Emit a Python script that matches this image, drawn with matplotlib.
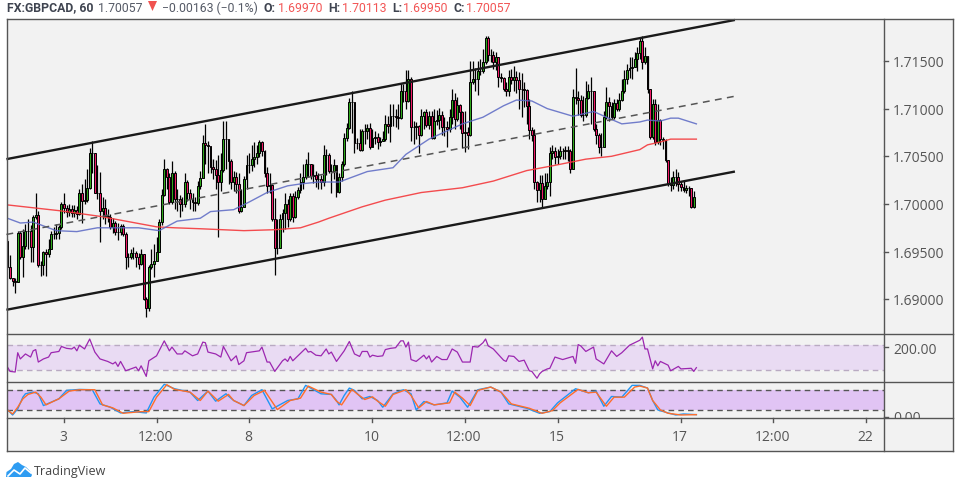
import matplotlib
matplotlib.use('Agg')
import matplotlib.pyplot as plt
import numpy as np
from matplotlib.lines import Line2D
from matplotlib.patches import Polygon, Rectangle
from matplotlib.ticker import FixedLocator

# All prices are in pips above 1.7000.
first_open = -39
close_pips = [-66,-78,-81,-82,-30,-56,-44,-28,-28,-45,-14,-12,-64,-64,-50,-53,-47,-32,-32,-30,
    -24,0,-4,-8,-5,-9,-6,-11,11,3,4,17,53,53,12,11,-7,-4,-13,-14,
    -24,-20,-29,-29,-23,-32,-56,-56,-51,-51,-56,-63,-53,-100,-109,-66,-63,-60,-50,-19,
    9,37,28,2,32,5,5,0,0,23,11,5,2,1,19,27,64,62,61,39,
    37,30,23,36,68,68,45,23,28,21,-7,-3,26,41,41,47,49,53,65,56,
    32,19,20,-16,-46,-46,-16,-9,0,-16,8,-14,7,15,23,28,42,42,29,30,
    26,26,23,51,51,35,35,41,13,28,42,69,80,107,107,64,64,57,77,77,
    80,60,69,70,65,66,68,84,82,92,92,91,90,118,118,108,131,81,81,82,
    72,92,96,83,92,69,87,88,93,81,81,79,91,109,89,104,96,74,75,72,
    128,131,131,139,139,149,174,156,156,149,154,133,132,121,118,133,130,133,130,121,
    121,120,103,78,72,23,15,22,5,19,23,53,56,49,50,56,56,57,56,37,
    112,111,109,93,93,111,118,118,79,72,60,60,91,107,103,91,106,100,109,119,
    131,140,143,144,152,158,171,149,155,121,70,105,65,88,68,67,46,21,20,28,
    28,21,18,15,17,17,-3,7]
high_pips = [-37,-54,-78,-78,-28,-28,-26,-21,-16,-22,-12,12,-7,-60,-49,-47,-37,-28,-24,-21,
    -22,2,12,-1,0,-1,-1,-2,16,21,26,37,59,66,50,41,33,7,5,-5,
    -11,-15,-18,-20,-21,-21,-29,-51,-47,-45,-49,-51,-47,-53,-98,-64,-47,-42,-35,-16,
    16,47,38,32,45,35,16,9,7,32,25,16,11,7,24,35,72,84,66,47,
    47,46,51,53,87,87,68,47,35,34,32,16,29,51,53,62,65,62,67,66,
    57,39,32,21,6,-16,-11,-5,11,5,11,11,14,18,32,42,47,54,42,42,
    35,32,30,62,58,53,42,47,40,32,45,74,85,111,119,100,69,79,79,84,
    84,85,79,77,74,70,77,93,92,105,105,100,105,127,126,141,141,133,87,86,
    83,100,98,100,98,97,100,99,101,97,91,87,100,121,116,112,105,97,97,81,
    150,150,143,150,152,163,176,176,163,160,159,154,137,133,128,140,142,145,139,138,
    137,128,121,110,81,79,24,30,30,32,32,60,62,60,58,61,59,61,61,58,
    121,143,119,114,113,129,126,133,119,84,74,74,97,123,112,107,110,110,116,131,
    140,147,154,154,159,165,175,176,165,155,121,110,110,105,89,70,68,46,28,35,
    37,33,24,24,20,19,17,14]
low_pips = [-68,-79,-86,-93,-82,-58,-77,-47,-47,-61,-61,-16,-66,-76,-74,-76,-56,-47,-37,-37,
    -37,-26,-9,-14,-13,-14,-14,-16,-12,-20,0,2,16,32,11,5,-40,-16,-21,-19,
    -26,-30,-33,-38,-33,-34,-68,-66,-58,-58,-66,-68,-64,-101,-119,-112,-68,-77,-60,-50,
    -22,8,16,0,0,-5,-7,-14,-7,-3,3,-5,-7,-7,-1,16,27,42,32,32,
    26,16,-35,14,33,37,21,16,14,11,-9,-8,-2,16,32,35,39,42,49,50,
    28,11,11,-18,-75,-53,-42,-29,-26,-24,-18,-19,-15,5,11,16,26,28,26,22,
    18,16,16,19,30,32,11,26,7,11,24,40,66,79,74,53,58,56,56,63,
    68,58,60,63,58,61,66,66,74,65,82,81,79,89,107,100,107,66,63,68,
    53,71,79,81,79,68,68,83,79,72,71,60,75,84,79,87,79,59,54,58,
    71,126,119,114,135,137,147,150,149,142,140,123,128,118,113,113,126,119,116,100,
    91,102,84,68,66,16,2,2,-4,11,16,8,47,42,42,47,47,47,45,32,
    37,105,93,91,87,91,110,84,77,63,53,50,66,89,87,89,89,97,98,108,
    116,126,132,131,144,139,152,142,147,116,68,68,62,63,62,58,44,19,14,16,
    19,14,14,13,12,8,-4,-4]

# Moving averages, read at turning points: bar number, pips.
red_bar = [0,10,20,36,46,58,65,75,92,104,114,121,125,138,147,161,177,189,202,212,225,235,246,249,254,258,268]
red_pips = [-1,-4,-7,-13,-18,-24,-25,-26,-28,-27,-25,-19,-15,-3,4,12,17,24,35,40,47,50,57,62,65,68,68]
blue_bar = [0,5,10,14,19,27,35,41,51,59,66,75,79,88,94,101,109,114,121,129,140,150,155,164,177,185,193,198,204,210,220,228,233,239,246,249,254,258,261,268]
blue_pips = [-15,-20,-19,-23,-28,-29,-25,-25,-25,-28,-18,-15,-8,-6,2,12,19,21,23,23,34,38,52,68,84,91,103,109,108,100,92,97,91,84,86,88,87,90,90,84]

# Channel drawn on the chart: bar number at both ends, pips at both ends.
channel_bar = [-0.4, 283]
channel_upper = [47, 193]
channel_mid = [-32, 113]
channel_lower = [-111, 34]

rsi_bar = [0,1,3,4,5,7,9,10,11,12,14,16,17,20,21,23,25,26,27,28,30,32,34,36,39,41,42,43,44,46,48,50,51,52,54,55,58,61,63,64,66,68,69,72,74,76,77,78,81,83,84,87,89,90,92,93,98,99,101,102,104,107,108,109,110,111,116,117,118,120,122,
    124,125,126,128,131,133,135,137,138,140,141,142,144,146,147,149,151,153,154,155,156,157,159,162,163,164,165,167,169,171,173,175,177,180,181,183,185,186,187,189,193,194,195,197,199,201,203,204,206,207,208,210,211,213,216,220,221,222,223,225,228,229,232,235,237,239,242,246,
    247,248,249,251,252,253,254,257,258,261,262,266,267,268]
rsi_val = [34,27,26,57,47,55,50,60,62,42,47,50,57,59,67,64,63,66,60,69,63,79,58,47,43,39,42,35,43,28,31,34,28,36,19,44,52,76,60,66,55,55,60,52,55,74,73,58,55,50,67,44,52,38,44,57,60,66,42,42,27,44,47,43,51,44,64,58,59,53,52,
    63,55,58,43,60,75,55,51,59,59,50,53,51,52,62,64,65,76,76,66,74,46,43,53,47,52,42,51,46,46,63,58,42,42,67,66,73,79,68,63,45,43,52,51,43,45,28,27,16,23,27,31,32,50,46,51,40,70,68,59,66,47,39,60,51,57,69,77,
    82,63,63,31,44,36,43,37,28,35,31,32,27,33]

k_bar = [0,1,2,4,6,7,10,12,14,17,20,23,28,33,36,40,44,49,54,57,61,65,71,74,78,81,85,88,92,95,99,103,109,113,116,122,
    126,128,129,131,133,135,138,141,144,146,150,154,157,159,162,166,171,173,176,179,183,188,192,195,202,207,211,214,221,226,229,232,235,239,243,
    246,249,251,253,257,260,263,268]
k_val = [21,14,6,24,59,69,74,69,34,44,54,79,82,81,39,29,12,16,12,59,97,84,74,49,77,47,69,49,34,64,81,24,49,54,94,69,
    67,49,36,64,86,79,54,61,49,29,69,81,69,21,46,36,42,77,59,29,81,89,74,39,26,11,16,42,84,72,77,32,61,59,94,
    94,86,49,21,12,6,9,7]
d_bar = [0,2,4,6,8,11,13,15,18,20,24,28,34,37,41,45,52,55,58,62,65,71,75,78,82,86,88,92,96,100,105,110,114,117,122,
    126,128,130,132,134,136,139,142,144,147,150,155,157,160,163,166,172,174,177,180,183,188,192,196,203,208,212,215,222,226,229,233,236,240,244,
    246,249,251,254,257,262,268]
d_val = [21,9,29,54,67,74,59,36,47,54,77,81,81,36,27,11,16,16,59,96,82,74,49,77,47,67,49,34,64,79,22,49,56,92,74,
    67,47,36,59,82,69,52,60,47,32,67,81,64,27,46,36,42,74,56,34,79,89,74,39,26,11,19,42,82,72,74,32,59,59,89,
    92,86,49,21,11,6,7]

price_ticks = [1.69, 1.695, 1.70, 1.705, 1.71, 1.715]
time_bars = [22, 58, 94, 142, 178, 214, 262, 298, 334]
time_labels = ['3', '12:00', '8', '10', '12:00', '15', '17', '12:00', '22']

W, H = 960, 489
BG = '#f2f2f2'
FRAME = '#555555'
TEXT = '#555555'
XLIM = (-0.37, 340.8)
plt.rcParams['font.family'] = ['Open Sans', 'DejaVu Sans']


def px_axes(x0, y0, x1, y1):
    a = fig.add_axes([x0/W, 1-y1/H, (x1-x0)/W, (y1-y0)/H], facecolor=BG)
    a.set_xlim(*XLIM)
    for s in a.spines.values():
        s.set_visible(False)
    a.tick_params(length=0, labelleft=False, labelbottom=False)
    return a


def px_line(xs, ys, **kw):
    fig.add_artist(Line2D([x/W for x in xs], [1-y/H for y in ys], transform=fig.transFigure, **kw))


def px_text(x, y, s, **kw):
    return fig.text(x/W, 1-y/H, s, va='center', **kw)


fig = plt.figure(figsize=(W/100, H/100), dpi=100, facecolor='w')
fig.add_artist(Rectangle((6.5/W, 1-452/H), 946.5/W, 432/H, transform=fig.transFigure, fc=BG, ec='none', zorder=-1))

ax = px_axes(6.5, 20, 883.5, 335)
ax_rsi = px_axes(6.5, 335, 883.5, 382)
ax_st = px_axes(6.5, 382, 883.5, 419)

# Candles
close = 1.7 + np.array(close_pips)/1e4
high = 1.7 + np.array(high_pips)/1e4
low = 1.7 + np.array(low_pips)/1e4
open_ = np.r_[1.7 + first_open/1e4, close[:-1]]
bars = np.arange(len(close))
assert len(close) == len(high) == len(low)
up = close >= open_
colors = np.where(up, '#2fa81c', '#ee1a66')
ax.vlines(bars, low, high, color='k', lw=0.9, zorder=3)
ax.bar(bars, np.abs(close-open_), bottom=np.minimum(open_, close), width=0.75,
       color=colors, edgecolor='k', linewidth=0.7, zorder=4)

ax.plot(red_bar, 1.7 + np.array(red_pips)/1e4, c='#f4393c', lw=1, alpha=.9, zorder=5)
ax.plot(blue_bar, 1.7 + np.array(blue_pips)/1e4, c='#5a68c4', lw=1, alpha=.85, zorder=5)
for vals, ls, lw in [(channel_upper, '-', 1.7), (channel_lower, '-', 1.7), (channel_mid, (0, (4.5, 3.5)), 1.1)]:
    ax.plot(channel_bar, 1.7 + np.array(vals)/1e4, c='#1a1a1a' if ls == '-' else '#555555', ls=ls, lw=lw,
            zorder=6, clip_on=False, solid_capstyle='butt')
ax.set_ylim(1.7 - 136.4/1e4, 1.7 + 194/1e4)
ax.yaxis.set_major_locator(FixedLocator(price_ticks))

# RSI
ax_rsi.set_ylim(11.6, 87)
ax_rsi.axhspan(30, 70, fc='#e9dbf3', ec='none')
for v in (30, 70):
    ax_rsi.axhline(v, c='#b9aac2', lw=1, dashes=(4, 3))
ax_rsi.plot(rsi_bar, rsi_val, c='#9c27b0', lw=0.9)

# Stochastic
ax_st.set_ylim(-3, 107)
ax_st.axhspan(20, 80, fc='#e1c4f4', ec='none')
for v in (20, 80):
    ax_st.axhline(v, c='#555555', lw=1, dashes=(4, 3))
ax_st.plot(k_bar, k_val, c='#2196f3', lw=1)
ax_st.plot(d_bar, d_val, c='#ff6d2a', lw=1)

# Frame
for xs, ys in [((6.5, 953), (20, 20)), ((6.5, 953), (335, 335)), ((6.5, 953), (382.5, 382.5)),
               ((6.5, 953), (419, 419)), ((6.5, 953), (452, 452)),
               ((6.5, 6.5), (20, 452)), ((883.5, 883.5), (20, 452)), ((953, 953), (20, 452))]:
    px_line(xs, ys, c=FRAME, lw=1.0)

# Price axis labels
for p in price_ticks:
    y = 205 - (p - 1.7)*9533.0
    px_line((884, 888), (y, y), c=FRAME, lw=1)
    px_text(893, y+1.5, f'{p:.5f}', fontsize=10, color=TEXT)
px_line((884, 888), (348, 348), c=FRAME, lw=1)
px_text(893, 350, '200.00', fontsize=10, color=TEXT)
px_line((884, 888), (417.5, 417.5), c=FRAME, lw=1)
zero = px_text(893, 418.5, '0.00', fontsize=10, color=TEXT)
zero.set_clip_path(Rectangle((884/W, 1-419/H), 69/W, 37/H, transform=fig.transFigure))
zero.set_clip_on(True)

# Time axis labels
for b, lab in zip(time_bars, time_labels):
    x = 7.45 + b*2.5705
    px_line((x, x), (419, 423), c=FRAME, lw=1)
    px_text(x-1, 437.5, lab, fontsize=10, color=TEXT, ha='center')

# Header
HEAD = ['Roboto', 'DejaVu Sans']
px_text(7, 8, 'FX:GBPCAD, 60', fontsize=8.8, fontweight='bold', color='#3f4450', family=HEAD)
px_text(98, 8, '1.70057', fontsize=8.8, color='#555a66', family=HEAD)
fig.add_artist(Polygon([(148/W, 1-2/H), (157/W, 1-2/H), (152.5/W, 1-12/H)], transform=fig.transFigure, fc='#f0524f', ec='none'))
px_text(162, 8, '\u22120.00163 (\u22120.1%)', fontsize=8.8, color='#555a66', family=HEAD)
for x, lab, xv, val in [(264, 'O:', 278, '1.69970'), (328, 'H:', 342, '1.70113'),
                        (392, 'L:', 403, '1.69950'), (453, 'C:', 466, '1.70057')]:
    px_text(x, 8, lab, fontsize=8.8, fontweight='bold', color='#3f4450', family=HEAD)
    px_text(xv, 8, val, fontsize=8.8, color='#f25555', family=HEAD)

# TradingView logo
cloud = [(6, 478), (6.5, 473), (11, 470), (14, 465), (18, 463), (22, 466), (26, 468), (30, 472), (32, 476), (31, 478)]
fig.add_artist(Polygon([(x/W, 1-y/H) for x, y in cloud], transform=fig.transFigure, fc='#2e9cf2', ec='none'))
px_line((8, 14, 20, 25, 31), (477, 471, 475, 469, 474), c='w', lw=1.2)
px_text(34, 471.5, 'TradingView', fontsize=9, color='#444444')

fig.savefig('out.png', dpi=100)
